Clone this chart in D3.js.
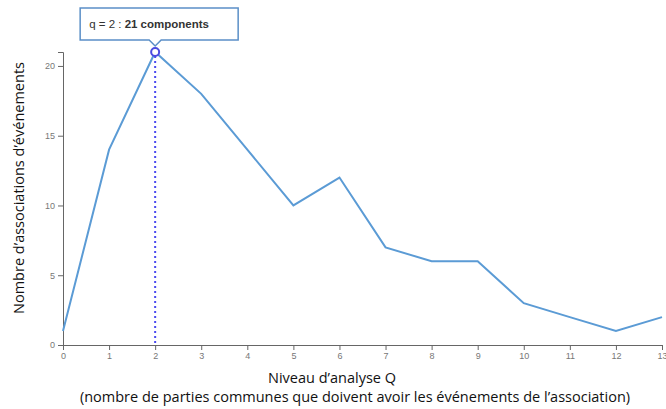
<!DOCTYPE html>
<html>
<head>
<meta charset="utf-8">
<script src="https://cdn.jsdelivr.net/npm/d3@7"></script>
<style>
    body { margin: 0; background: #fff; }
    svg { display: block; }
    .axis path, .axis line { stroke: #666; }
    .axis text { fill: #777; font-family: Arial, "Liberation Sans", sans-serif; font-size: 9px; }
    .title { font-family: "Open Sans", "Noto Sans", sans-serif; font-size: 14.5px; fill: #111; }
</style>
</head>
<body>
<svg id="chart" width="666" height="409"></svg>
<script>
'use strict';
let levels = [0, 1, 2, 3, 4, 5, 6, 7, 8, 9, 10, 11, 12, 13];
let counts = [1, 14, 21, 18, 14, 10, 12, 7, 6, 6, 3, 2, 1, 2];
let yTicks = [0, 5, 10, 15, 20];
let selected = 2;

let data = levels.map((q, i) => ({q: q, n: counts[i]}));

let svg = d3.select("#chart"),
    margin = {top: 52, right: 4, bottom: 64, left: 63},
    width = +svg.attr("width"),
    height = +svg.attr("height");

let x = d3.scaleLinear()
    .domain([0, 13])
    .range([margin.left, width - margin.right]);

let y = d3.scaleLinear()
    .domain([0, 21])
    .range([height - margin.bottom, margin.top]);

svg.append("g")
    .attr("class", "axis")
    .attr("transform", "translate(0," + (height - margin.bottom) + ")")
    .call(d3.axisBottom(x).tickValues(levels).tickSize(5).tickSizeOuter(5));

svg.append("g")
    .attr("class", "axis")
    .attr("transform", "translate(" + margin.left + ",0)")
    .call(d3.axisLeft(y).tickValues(yTicks).tickSize(5).tickSizeOuter(5));

let line = d3.line()
    .x(d => x(d.q))
    .y(d => y(d.n));

svg.append("path")
    .datum(data)
    .attr("fill", "none")
    .attr("stroke", "#5b9bd5")
    .attr("stroke-width", 2)
    .attr("d", line);

// selected point marker
let sel = data.find(d => d.q === selected);
svg.append("line")
    .attr("x1", x(sel.q)).attr("x2", x(sel.q))
    .attr("y1", y(sel.n) + 4).attr("y2", y(0))
    .attr("stroke", "#4a4af0")
    .attr("stroke-width", 2)
    .attr("stroke-dasharray", "2,3");

svg.append("circle")
    .attr("cx", x(sel.q))
    .attr("cy", y(sel.n))
    .attr("r", 4)
    .attr("fill", "#fff")
    .attr("stroke", "#4a4ae0")
    .attr("stroke-width", 2);

// tooltip
let tx = x(sel.q), ty = y(sel.n) - 6;
let bw = 158, bh = 32, pw = 6, ph = 6;
let bx = tx - 75, by = ty - ph - bh;
svg.append("path")
    .attr("d", "M" + bx + "," + by + "h" + bw + "v" + bh + "H" + (tx + pw) +
        "l" + (-pw) + "," + ph + "l" + (-pw) + "," + (-ph) + "H" + bx + "Z")
    .attr("fill", "#fff")
    .attr("stroke", "#5b8fc7")
    .attr("stroke-width", 1.5);

let tt = svg.append("text")
    .attr("x", bx + 9)
    .attr("y", by + 20)
    .style("font-family", "Arial, 'Liberation Sans', sans-serif")
    .style("font-size", "11.5px")
    .style("fill", "#333");
tt.append("tspan").text("q = " + sel.q + " : ");
tt.append("tspan").style("font-weight", "bold").text(sel.n + " components");

// axis titles
svg.append("text")
    .attr("class", "title")
    .attr("transform", "translate(24,188) rotate(-90)")
    .style("text-anchor", "middle")
    .text("Nombre d’associations d’événements");

svg.append("text")
    .attr("class", "title")
    .attr("x", 332)
    .attr("y", 383)
    .style("text-anchor", "middle")
    .text("Niveau d’analyse Q");

svg.append("text")
    .attr("class", "title")
    .attr("x", 355)
    .attr("y", 402)
    .style("text-anchor", "middle")
    .text("(nombre de parties communes que doivent avoir les événements de l’association)");
</script>
</body>
</html>
